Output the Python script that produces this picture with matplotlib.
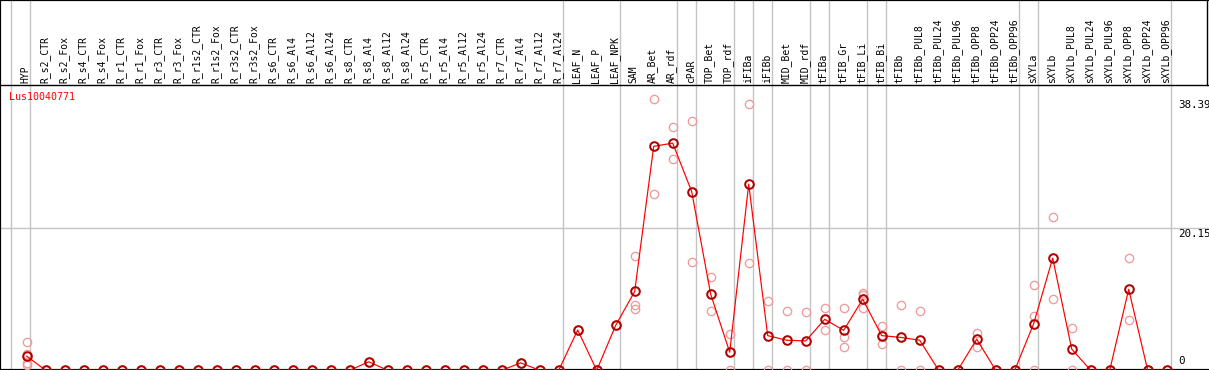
import matplotlib
matplotlib.use("Agg")
import matplotlib.pyplot as plt
import matplotlib.transforms as mtransforms

# Dados
gene = "Lus10040771"

samples = [
    "HYP",
    "R_s2_CTR", "R_s2_Fox", "R_s4_CTR", "R_s4_Fox", "R_r1_CTR", "R_r1_Fox",
    "R_r3_CTR", "R_r3_Fox", "R_r1s2_CTR", "R_r1s2_Fox", "R_r3s2_CTR", "R_r3s2_Fox",
    "R_s6_CTR", "R_s6_Al4", "R_s6_Al12", "R_s6_Al24",
    "R_s8_CTR", "R_s8_Al4", "R_s8_Al12", "R_s8_Al24",
    "R_r5_CTR", "R_r5_Al4", "R_r5_Al12", "R_r5_Al24",
    "R_r7_CTR", "R_r7_Al4", "R_r7_Al12", "R_r7_Al24",
    "LEAF_N", "LEAF_P", "LEAF_NPK",
    "SAM", "AR_Bet", "AR_rdf", "cPAR", "TOP_Bet", "TOP_rdf",
    "iFIBa", "iFIBb", "MID_Bet", "MID_rdf",
    "tFIBa", "tFIB_Gr", "tFIB_Li", "tFIB_Bi", "tFIBb",
    "tFIBb_PUL8", "tFIBb_PUL24", "tFIBb_PUL96",
    "tFIBb_OPP8", "tFIBb_OPP24", "tFIBb_OPP96",
    "sXYLa", "sXYLb",
    "sXYLb_PUL8", "sXYLb_PUL24", "sXYLb_PUL96",
    "sXYLb_OPP8", "sXYLb_OPP24", "sXYLb_OPP96",
]

means = [
    2.0,
    0, 0, 0, 0, 0, 0, 0, 0, 0, 0, 0, 0,
    0, 0, 0, 0,
    0, 1.2, 0, 0,
    0, 0, 0, 0,
    0, 1.05, 0, 0,
    5.7, 0, 6.35,
    11.15, 31.65, 32.1, 25.25, 10.75, 2.55,
    26.3, 4.9, 4.25, 4.15,
    7.2, 5.65, 10.05, 4.9, 4.65,
    4.25, 0, 0,
    4.4, 0, 0,
    6.6, 15.85,
    3.0, 0, 0,
    11.45, 0, 0,
]

replicates = [
    [3.96, 2.26, 1.07, 0.75],
    [0, 0], [0, 0], [0, 0], [0, 0], [0, 0], [0, 0], [0, 0], [0, 0],
    [0, 0], [0, 0], [0, 0], [0, 0],
    [0, 0], [0, 0], [0, 0], [0, 0],
    [0, 0], [1.2, 1.2], [0, 0], [0, 0],
    [0, 0], [0, 0], [0, 0], [0, 0],
    [0, 0], [1.05, 1.05], [0, 0], [0, 0],
    [5.7, 5.7], [0, 0], [6.35, 6.35],
    [16.2, 9.2, 8.6], [38.39, 24.9], [34.35, 29.8], [35.2, 15.25],
    [13.15, 8.35], [5.1, 0],
    [37.6, 15.15], [9.75, 0], [8.35, 0], [8.25, 0],
    [8.75, 5.65], [8.75, 4.65, 3.25], [10.9, 10.65, 8.75], [6.25, 4.95, 3.65],
    [9.25, 0],
    [8.4, 0], [0, 0], [0, 0],
    [5.25, 3.35], [0, 0], [0, 0],
    [12.0, 7.65, 0], [21.6, 10.05],
    [5.95, 0], [0, 0], [0, 0],
    [15.85, 7.05], [0, 0], [0, 0],
]

# linhas verticais de grupo (depois destes indices)
group_after = [-1, 0, 28, 31, 34, 35, 37, 38, 39, 41, 42, 44, 45, 52, 53, 60]

y_ticks = [0, 20.15, 38.39]

# Layout (pixels)
W, H = 1209, 370
x0_px, step_px = 26.7, 19.0       # posicao da primeira amostra e passo
zero_px, unit_px = 370.3, 7.077   # y=0 em pixels a partir do topo, pixels por unidade
header_px = 85                    # linha que separa os rotulos do grafico

px = 1.0 / 1.389  # 1 pixel em pontos

fig = plt.figure(figsize=(W / 100, H / 100), dpi=100)
ax = fig.add_axes([0, 0, 1, 1])
ax.set_xlim(-x0_px / step_px, (W - x0_px) / step_px)
ax.set_ylim((zero_px - H) / unit_px, zero_px / unit_px)
ax.set_xticks([])
ax.set_yticks([])
for side in ["top", "bottom", "left"]:
    ax.spines[side].set_linewidth(2.2 * px)
ax.spines["right"].set_visible(False)

header_y = (zero_px - header_px) / unit_px
header_frac = 1 - header_px / H

# grade
for g in group_after:
    ax.axvline(g + 0.2, color="#c4c4c4", lw=1.4 * px, zorder=1)
ax.axhline(y_ticks[1], color="#c4c4c4", lw=1.4 * px, zorder=1)
ax.axhline(header_y, color="black", lw=1.4 * px, zorder=2)
ax.axvline((W - 2.3 - x0_px) / step_px, ymin=header_frac, ymax=1, color="black",
           lw=1.4 * px)

xs = list(range(len(samples)))

# replicatas
rx, ry = [], []
for i, reps in enumerate(replicates):
    for v in reps:
        rx.append(i)
        ry.append(v)
ax.plot(rx, ry, ls="none", marker="o", ms=6.0, mfc="none", mec="#f09a9a",
        mew=1.3 * px, zorder=3)

# medias
ax.plot(xs, means, color="#ff0000", lw=1.2 * px, zorder=4)
ax.plot(xs, means, ls="none", marker="o", ms=6.2, mfc="none",
        mec="#b00000", mew=2.0 * px, zorder=5)

mono = "DejaVu Sans Mono"

# rotulos das amostras
label_y = (zero_px - 83) / unit_px
for i, name in enumerate(samples):
    ax.text(i - 0.05, label_y, name, rotation=90, ha="center", va="bottom",
            fontsize=7, family=mono, color="black")

# nome do gene
ax.text((9.3 - x0_px) / step_px, (zero_px - 97.5) / unit_px, gene, ha="left",
        va="center", fontsize=7.2, family=mono, color="#ff0000")

# rotulos do eixo y (direita)
trans = mtransforms.blended_transform_factory(ax.transAxes, ax.transData)
for v in y_ticks:
    if v == 0:
        ax.text(1178 / W, v + 0.6, "0", transform=trans, ha="left", va="bottom",
                fontsize=7.8, family=mono)
    else:
        ax.text(1178 / W, v - 0.25, f"{v:.2f}", transform=trans, ha="left",
                va="top", fontsize=7.8, family=mono)

fig.savefig("out.png", dpi=100)
plt.close(fig)
